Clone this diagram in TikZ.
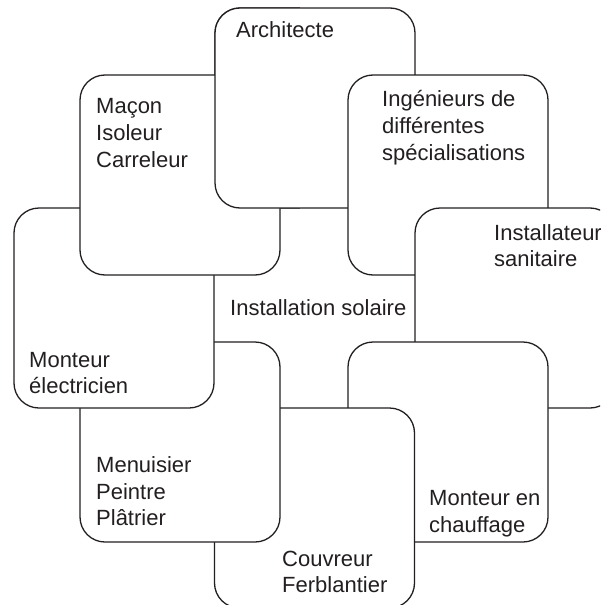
\documentclass[tikz,border=0pt]{standalone}
\usepackage{fontspec}
\setmainfont{Liberation Sans}
\definecolor{ink}{RGB}{35,31,32}
\begin{document}
\begin{tikzpicture}[x=1pt,y=-1pt,
  box/.style={draw=ink, fill=white, line width=1.3pt, rounded corners=25pt,
    minimum width=200pt, minimum height=200pt, inner sep=0pt, outer sep=0pt},
  lbl/.style={anchor=base west, inner sep=0pt, text=ink,
    font=\fontsize{22}{26}\selectfont}]
\useasboundingbox (0,0) rectangle (600,605);
\clip (0,0) rectangle (600,605);
% boxes, in stacking order
\node[box] (arch) at (315,108) {};
\node[box] (ing) at (448,175) {};
\node[box] (inst) at (515,308) {};
\node[box] (chauf) at (448,442) {};
\node[box] (couv) at (314.5,508) {};
\node[box] (menu) at (180,442) {};
\node[box] (elec) at (114,308) {};
\node[box] (macon) at (180,175) {};
% Architecte lies over Macon: redraw where they overlap
\begin{scope}
  \clip (200,0) rectangle (300,212);
  \node[box] (arch2) at (315,108) {};
\end{scope}
% texts
\node[lbl] (t1) at (236,37) {Architecte};
\node[lbl] (t2a) at (96,113) {Maçon};
\node[lbl] (t2b) at (96,140) {Isoleur};
\node[lbl] (t2c) at (96,167) {Carreleur};
\node[lbl] (t3a) at (382,106) {Ingénieurs de};
\node[lbl] (t3b) at (382,133) {différentes};
\node[lbl] (t3c) at (382,160) {spécialisations};
\node[lbl] (t4a) at (494,240) {Installateur};
\node[lbl] (t4b) at (494,266) {sanitaire};
\node[lbl] (t0) at (230,315) {Installation solaire};
\node[lbl] (t5a) at (29,367) {Monteur};
\node[lbl] (t5b) at (29,393) {électricien};
\node[lbl] (t6a) at (96,472) {Menuisier};
\node[lbl] (t6b) at (96,499) {Peintre};
\node[lbl] (t6c) at (96,525) {Plâtrier};
\node[lbl] (t7a) at (282,566) {Couvreur};
\node[lbl] (t7b) at (282,592) {Ferblantier};
\node[lbl] (t8a) at (429,505) {Monteur en};
\node[lbl] (t8b) at (429,532) {chauffage};
\end{tikzpicture}
\end{document}
